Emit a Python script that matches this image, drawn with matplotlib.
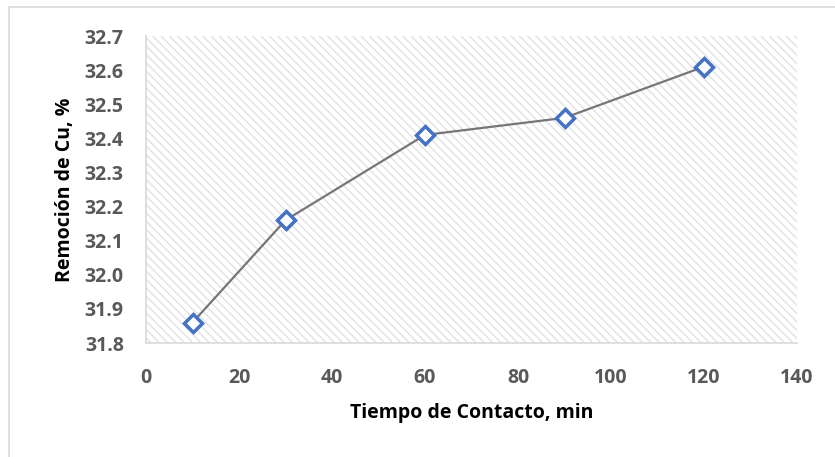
import matplotlib
matplotlib.use("Agg")
import matplotlib.pyplot as plt
from matplotlib.patches import Rectangle

tiempo = [10, 30, 60, 90, 120]
remocion = [31.86, 32.16, 32.41, 32.46, 32.61]
xticks = [0, 20, 40, 60, 80, 100, 120, 140]
yticks = [31.8, 31.9, 32.0, 32.1, 32.2, 32.3, 32.4, 32.5, 32.6, 32.7]

plt.rcParams['font.family'] = ['Open Sans', 'DejaVu Sans']
plt.rcParams['hatch.linewidth'] = 1.0

W, H = 835, 457
fig = plt.figure(figsize=(W/100, H/100), dpi=100)

# outer chart frame (left and top visible)
fig.patches.append(Rectangle((9/W, -0.1), 1.2, 1 - 7/H + 0.1, transform=fig.transFigure,
                             fill=False, edgecolor='#d9d9d9', linewidth=1.2))

ax = fig.add_axes([146/W, 1 - 343/H, (797-146)/W, (343-36)/H])
ax.add_patch(Rectangle((0, 0), 1, 1, transform=ax.transAxes, facecolor='white',
                       edgecolor='#e2e2e2', linewidth=0, hatch='\\\\\\\\', zorder=0))

ax.plot(tiempo, remocion, color='#767676', linewidth=1.6, zorder=2)
ax.plot(tiempo, remocion, linestyle='none', marker='D', markersize=9.5,
        markerfacecolor='white', markeredgecolor='#4472C4', markeredgewidth=2.5, zorder=3)

ax.set_xlim(0, 140)
ax.set_ylim(31.8, 32.7)
ax.set_xticks(xticks)
ax.set_yticks(yticks)
ax.set_yticklabels([f"{v:.1f}" for v in yticks])

for s in ['top', 'right']:
    ax.spines[s].set_visible(False)
for s in ['left', 'bottom']:
    ax.spines[s].set_color('#d9d9d9')
    ax.spines[s].set_linewidth(1.2)

ax.tick_params(axis='both', length=0, labelsize=14, labelcolor='#595959')
ax.tick_params(axis='x', pad=18)
ax.tick_params(axis='y', pad=16)
for lab in ax.get_xticklabels() + ax.get_yticklabels():
    lab.set_fontweight('bold')

ax.set_xlabel('Tiempo de Contacto, min', fontsize=14, fontweight='bold', color='black', labelpad=11)
ax.set_ylabel('Remoción de Cu, %', fontsize=14, fontweight='bold', color='black', labelpad=7)

fig.savefig('out.png', dpi=100, facecolor='white')
